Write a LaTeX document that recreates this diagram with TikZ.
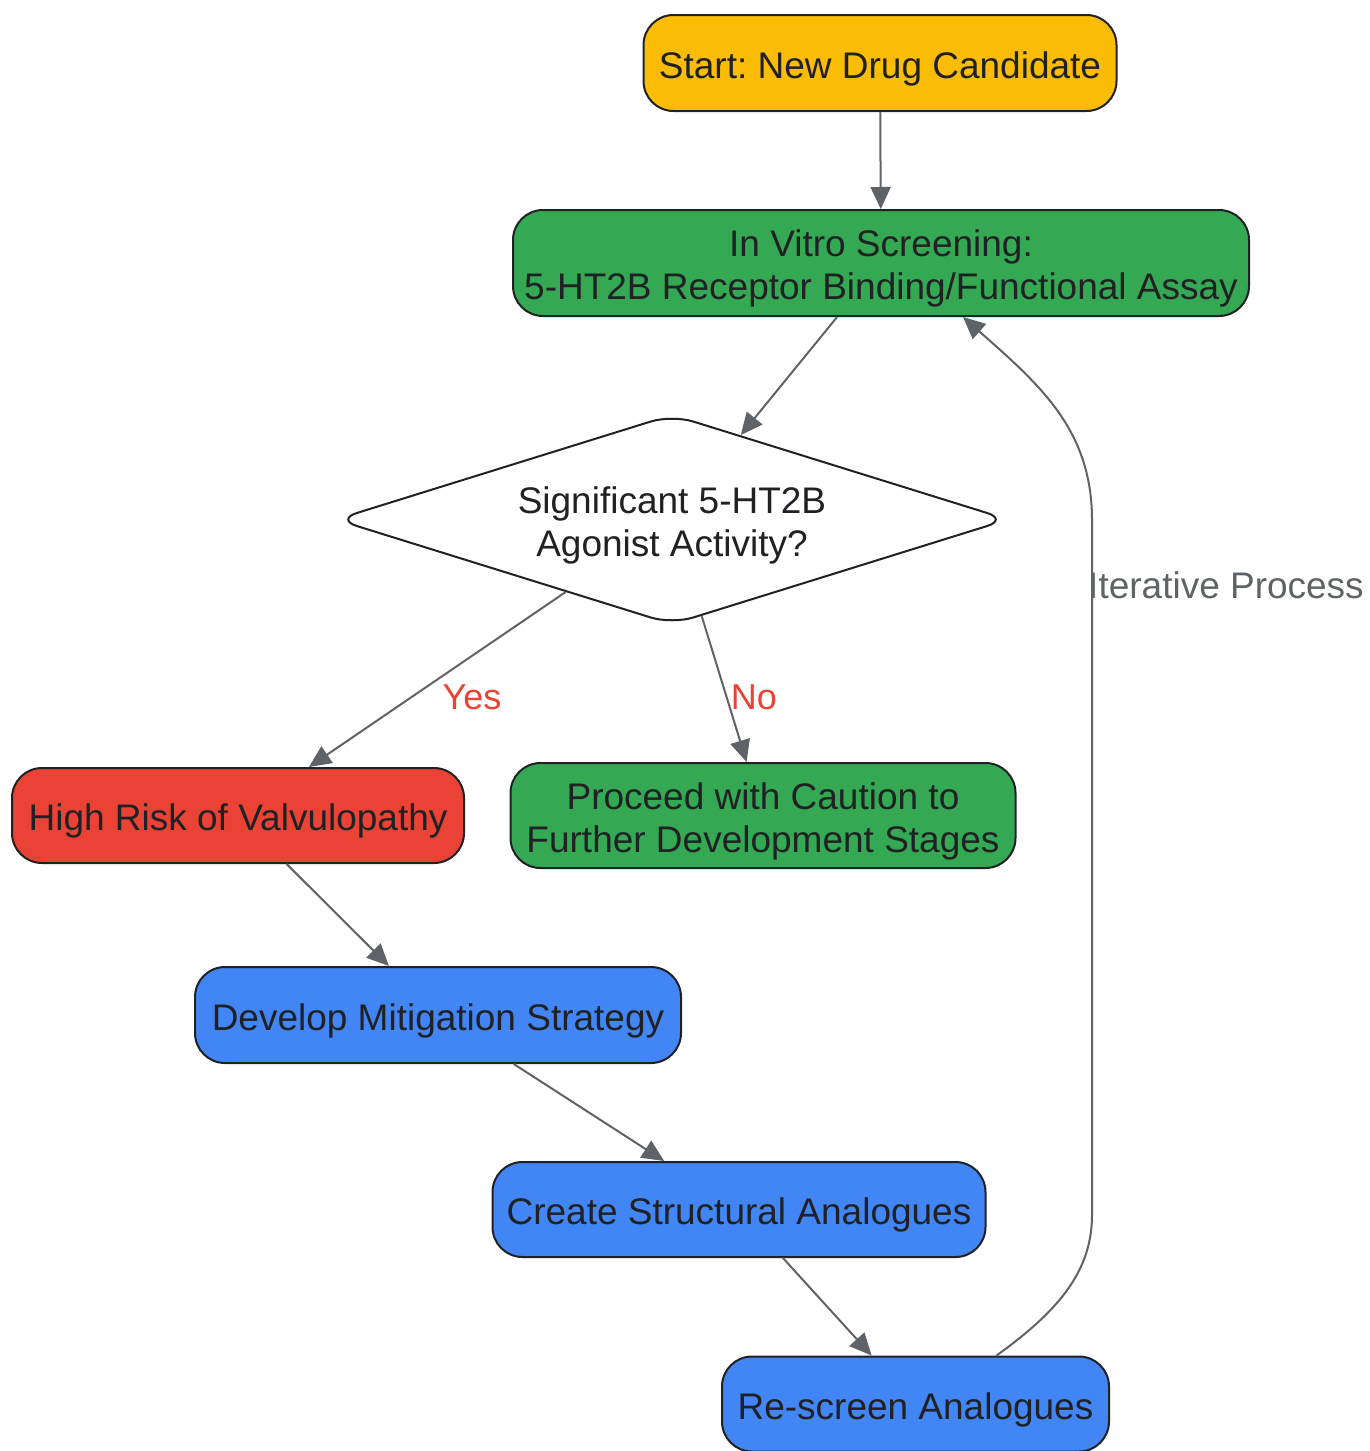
\documentclass[tikz,border=0pt]{standalone}
\usepackage{fontspec}
\setmainfont{Liberation Sans}
\usetikzlibrary{arrows.meta,shapes.geometric}
\definecolor{cYel}{HTML}{FBBC05}
\definecolor{cGreen}{HTML}{34A853}
\definecolor{cRed}{HTML}{EA4335}
\definecolor{cBlue}{HTML}{4285F4}
\definecolor{cText}{HTML}{202124}
\definecolor{cBorder}{HTML}{202124}
\definecolor{cLine}{HTML}{5F6368}
\newcommand\mytop{\rule{0pt}{39.6pt}}
\newcommand\mybot{\rule[-9pt]{0pt}{9pt}}
\frenchspacing
\begin{document}
\begin{tikzpicture}[x=1pt,y=-1pt,
  box/.style={draw=cBorder, line width=2pt, rounded corners=30pt, text=cText,
    font=\fontsize{37}{43}\selectfont, align=center, inner sep=0pt},
  conn/.style={draw=cLine, line width=2pt, -{Triangle[length=22pt,width=20pt]}},
  elabel/.style={font=\fontsize{36}{40}\selectfont, inner sep=0pt},
]
\useasboundingbox (0,0) rectangle (1369,1451);

\node[box, fill=cYel, minimum width=473pt, minimum height=96pt] (start) at (880,63) {\mytop Start: New Drug Candidate\mybot};
\node[box, fill=cGreen, minimum width=736pt, minimum height=106pt] (iv) at (881,263) {\mytop In Vitro Screening:\\5-HT2B Receptor Binding/Functional Assay\mybot};
\node[draw=cBorder, line width=2pt, diamond, aspect=3.2, inner sep=0pt,
  minimum width=673pt, minimum height=210pt, rounded corners=22pt, align=center,
  text=cText, font=\fontsize{37}{43}\selectfont, fill=white] (dec) at (672,519.5) {\mytop Significant 5-HT2B\\Agonist Activity?\mybot};
\node[box, fill=cRed, minimum width=452pt, minimum height=95pt] (hr) at (238,815.5) {\mytop High Risk of Valvulopathy\mybot};
\node[box, fill=cGreen, minimum width=505pt, minimum height=105pt] (pr) at (763,815.5) {\mytop Proceed with Caution to\\Further Development Stages\mybot};
\node[box, fill=cBlue, minimum width=486pt, minimum height=96pt] (dev) at (438,1015) {\mytop Develop Mitigation Strategy\mybot};
\node[box, fill=cBlue, minimum width=493pt, minimum height=95pt] (cr) at (739,1209.5) {\mytop Create Structural Analogues\mybot};
\node[box, fill=cBlue, minimum width=387pt, minimum height=95pt] (rs) at (915.5,1404) {\mytop Re-screen Analogues\mybot};

\draw[conn] (start) -- (iv);
\draw[conn] (iv) -- (dec);
\draw[conn] (dec) -- (hr);
\draw[conn] (dec) -- (pr);
\draw[conn] (hr) -- (dev);
\draw[conn] (dev) -- (cr);
\draw[conn] (cr) -- (rs);
\draw[conn] ([xshift=81pt]rs.north) .. controls (1060,1310) and (1092,1270) .. (1092,1215)
  -- (1092,520) .. controls (1092,430) and (1040,385) .. ([xshift=82pt]iv.south);

\node[elabel, text=cRed] (lyes) at (472,697) {Yes};
\node[elabel, text=cRed] (lno) at (754,697) {No};
\node[font=\fontsize{37}{43}\selectfont, inner sep=0pt, text=cLine] (liter) at (1226,585) {Iterative Process};
\end{tikzpicture}
\end{document}
